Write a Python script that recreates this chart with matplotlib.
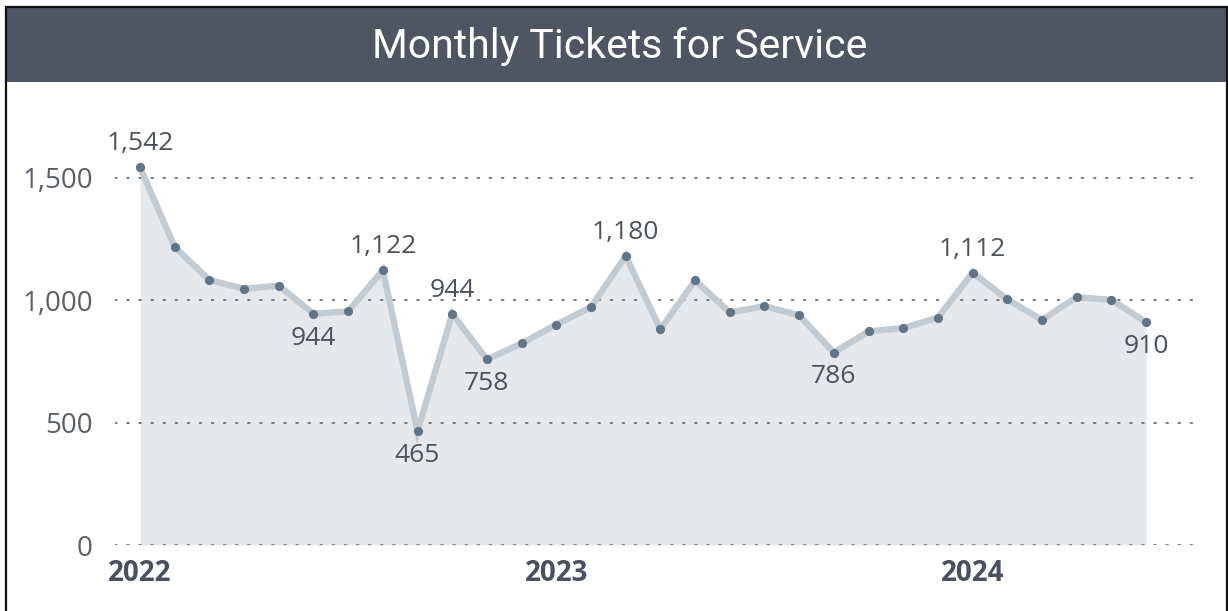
import matplotlib
matplotlib.use("Agg")
import matplotlib.pyplot as plt
from matplotlib.patches import Rectangle

# monthly tickets, Jan 2022 .. Jun 2024
tickets = [1542, 1217, 1082, 1046, 1059, 944, 954, 1122, 465, 944, 758, 823,
           900, 971, 1180, 881, 1080, 950, 975, 938, 786, 872, 886, 928,
           1112, 1003, 919, 1012, 1001, 910]
# which points get a label, and where
label_above = {0: True, 5: False, 7: True, 8: False, 9: True, 10: False,
               14: True, 20: False, 24: True, 29: False}
year_ticks = [0, 12, 24]
year_labels = ["2022", "2023", "2024"]
y_ticks = [0, 500, 1000, 1500]
y_labels = ["0", "500", "1,000", "1,500"]

W, H = 1228, 611
plt.rcParams["lines.scale_dashes"] = False
fig = plt.figure(figsize=(W / 100, H / 100), dpi=100)

# header bar + frame
fig.patches.append(Rectangle((6 / W, 1 - 82 / H), 1 - 6 / W, 74 / H,
                             transform=fig.transFigure, facecolor="#4f5563",
                             edgecolor="none", zorder=0))
fig.patches.append(Rectangle((6 / W, -0.05), (1227 - 6) / W, 1.05 - 7 / H,
                             transform=fig.transFigure, facecolor="none",
                             edgecolor="#111111", linewidth=1.6, zorder=5))
fig.text(620 / W, 1 - 46 / H, "Monthly Tickets for Service", color="white",
         fontsize=29.5, family="Roboto", ha="center", va="center")

ax = fig.add_axes([115 / W, 1 - 545 / H, (1195 - 115) / W, (545 - 100) / H])
x = list(range(len(tickets)))
ax.fill_between(x, tickets, 0, color="#e6e9ec", linewidth=0, zorder=1)
ax.plot(x, tickets, color="#c3cbd2", linewidth=4.6, solid_joinstyle="miter",
        zorder=3)
ax.plot(x, tickets, "o", color="#607586", markersize=5.6, zorder=4)

for i, above in label_above.items():
    ax.annotate(f"{tickets[i]:,}", (i, tickets[i]),
                xytext=(0, 17 if above else -17.5), textcoords="offset points",
                ha="center", va="center", fontsize=19, color="#4c525c",
                family="Open Sans", zorder=6)

ax.set_xlim(-0.72, 30.41)
ax.set_ylim(0, 1817)
ax.set_yticks(y_ticks, y_labels)
ax.set_xticks(year_ticks, year_labels)
for v in y_ticks:
    ax.axhline(v, color="#6b7077", linewidth=1.3, linestyle=(0, (1.3, 7.4)),
               dash_capstyle="round", zorder=2)

ax.tick_params(axis="both", length=0)
ax.tick_params(axis="y", pad=16, labelsize=20, labelcolor="#5b6068")
ax.tick_params(axis="x", pad=10, labelsize=20, labelcolor="#4a5060")
for t in ax.get_yticklabels():
    t.set_family("Open Sans")
for t in ax.get_xticklabels():
    t.set_family("Open Sans")
    t.set_fontweight("bold")
for s in ax.spines.values():
    s.set_visible(False)
ax.set_facecolor("none")

fig.savefig("out.png", dpi=100)
